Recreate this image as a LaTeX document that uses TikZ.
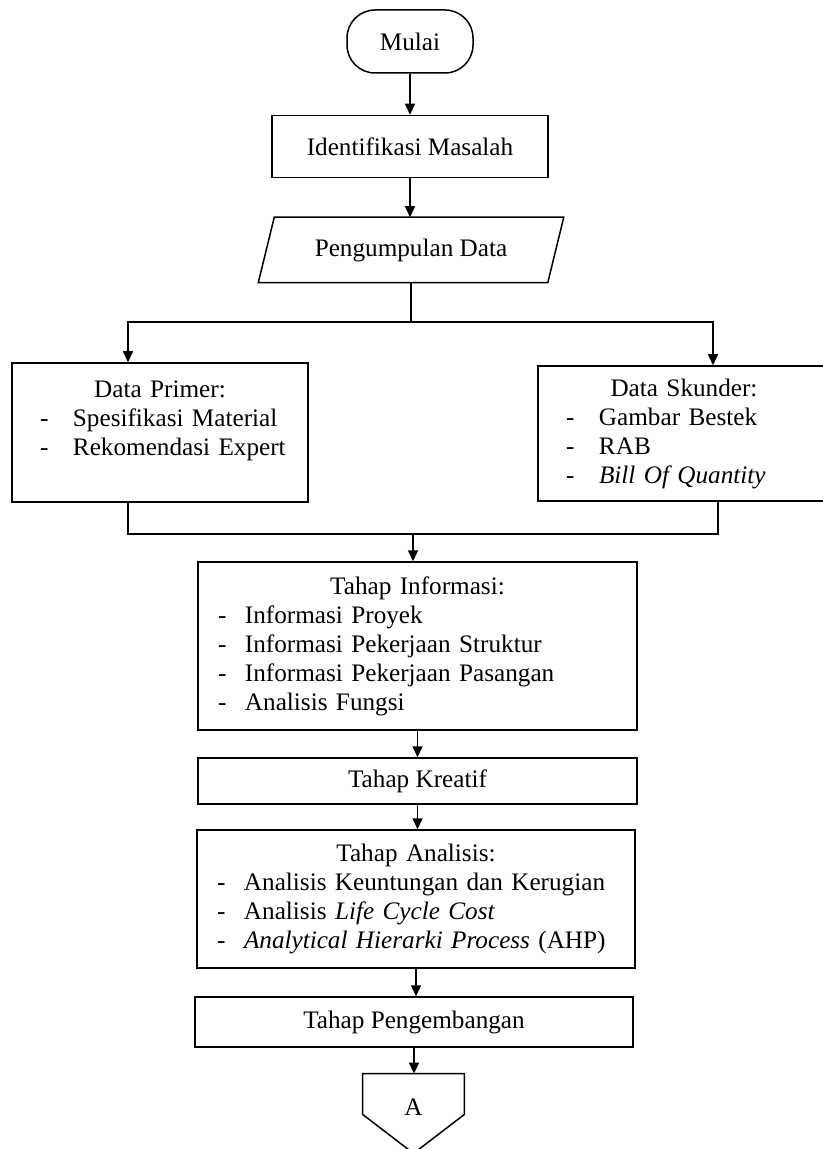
\documentclass[tikz,border=0pt]{standalone}
\usepackage{fontspec}
\setmainfont{Liberation Serif}
\usetikzlibrary{arrows.meta,positioning}
\newcommand{\boxtitle}[1]{{\centering #1\par}}
\newcommand{\itm}[1]{\par\noindent\hspace*{\dashin}\makebox[\dashgap][l]{-}#1}
\def\dashin{10pt}
\def\dashgap{13.5pt}
\tikzset{
  box/.style={draw,line width=0.75pt,inner sep=0pt,align=center,font=\fontsize{12.6}{14.5}\selectfont},
  listbox/.style={box,text width=#1,align=left},
  datbox/.style={listbox=#1,execute at begin node={\def\dashin{14pt}\def\dashgap{16.5pt}}},
  flow/.style={line width=0.75pt,-{Triangle[length=5.5pt,width=5pt]}},
  link/.style={line width=0.75pt}
}

\begin{document}
\begin{tikzpicture}[x=0.5pt,y=-0.5pt]
  \useasboundingbox (0,0) rectangle (823,1149);
  % start, problem, data
  \node[box,rounded corners=14pt,minimum width=63pt,minimum height=31.5pt] (mulai) at (410,41.5) {Mulai};
  \node[box,minimum width=138pt,minimum height=31pt] (ident) at (410,146.5) {Identifikasi Masalah};
  \node[box,draw=none,minimum width=144pt,minimum height=32pt] (kumpul) at (411,250) {Pengumpulan Data};
  \draw[link] ([xshift=-4pt]kumpul.south west) -- ([xshift=4pt]kumpul.north west)
    -- ([xshift=4pt]kumpul.north east) -- ([xshift=-4pt]kumpul.south east) -- cycle;
  % primary and secondary data
  \node[datbox=148pt,minimum height=69.5pt] (primer) at (160,432.5)
    {\boxtitle{Data Primer:}\itm{Spesifikasi Material}\itm{Rekomendasi Expert}\par\mbox{}};
  \node[datbox=146pt,minimum height=67.5pt] (skunder) at (684,433.5)
    {\boxtitle{Data Skunder:}\itm{Gambar Bestek}\itm{RAB}\itm{\textit{Bill Of Quantity}}};
  % stages
  \node[listbox=219.5pt,minimum height=84pt] (info) at (417.5,646)
    {\boxtitle{Tahap Informasi:}\itm{Informasi Proyek}\itm{Informasi Pekerjaan Struktur}\itm{Informasi Pekerjaan Pasangan}\itm{Analisis Fungsi}};
  \node[box,minimum width=219.5pt,minimum height=23pt] (kreatif) at (417.5,781) {Tahap Kreatif};
  \node[listbox=219pt,minimum height=69pt] (analisis) at (416,899)
    {\boxtitle{Tahap Analisis:}\itm{Analisis Keuntungan dan Kerugian}\itm{Analisis \textit{Life Cycle Cost}}\itm{\textit{Analytical Hierarki Process} (AHP)}};
  \node[box,minimum width=219pt,minimum height=25pt] (kembang) at (414,1022) {Tahap Pengembangan};
  % off-page connector
  \node[minimum width=50.5pt,minimum height=20pt,inner sep=0pt] (konA) at (413.5,1094) {};
  \node[font=\fontsize{12.6}{14.5}\selectfont] (hurufA) at ([yshift=-6.5pt]konA.center) {A};
  \draw[link] (konA.north west) -- (konA.north east) -- (konA.south east)
    -- ([yshift=-19.5pt]konA.south) -- (konA.south west) -- cycle;

  \coordinate (cabang) at (411,322);
  \coordinate (kiri) at (128,322);
  \coordinate (kanan) at (713,322);
  \coordinate (gabungkiri) at (128,534);
  \coordinate (gabungkanan) at (718,534);
  \coordinate (gabung) at (413,534);

  \draw[flow] (mulai) -- (ident);
  \draw[flow] (ident.south) -- (ident.south |- kumpul.north);
  \draw[link] (kumpul) -- (cabang);
  \draw[flow] (cabang) -- (kiri) -- (kiri |- primer.north);
  \draw[flow] (cabang) -- (kanan) -- (kanan |- skunder.north);
  \draw[link] (primer.south -| gabungkiri) -- (gabungkiri) -- (gabungkanan) -- (skunder.south -| gabungkanan);
  \draw[flow] (gabung) -- (gabung |- info.north);
  \draw[flow] (info) -- (kreatif);
  \draw[flow] (kreatif.south) -- (kreatif.south |- analisis.north);
  \draw[flow] (analisis.south) -- (analisis.south |- kembang.north);
  \draw[flow] (kembang.south) -- (kembang.south |- konA.north);
\end{tikzpicture}
\end{document}
